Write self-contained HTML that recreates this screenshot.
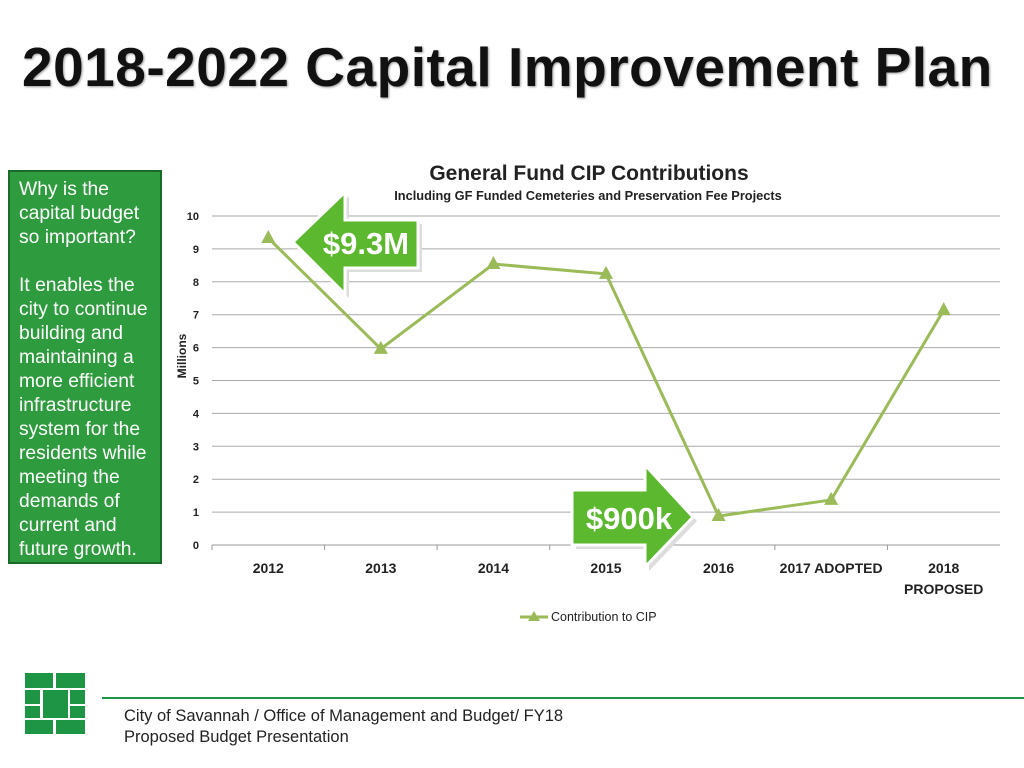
<!DOCTYPE html>
<html><head><meta charset="utf-8"><style>
body{margin:0;width:1024px;height:768px;background:#fff;position:relative;overflow:hidden;font-family:"Liberation Sans",sans-serif}
.abs{position:absolute}
</style></head><body>
<div class="abs" style="left:22px;top:35px;font-size:55px;font-weight:bold;color:#111;letter-spacing:0.5px;white-space:nowrap;text-shadow:1px 1px 2px #999">2018-2022 Capital Improvement Plan</div>
<div class="abs" style="left:8px;top:170px;width:141px;height:384px;background:#2e9b3e;border:2px solid #1a6b2a;color:#fff;font-size:19.3px;line-height:24px;padding:6px 0 0 9px">Why is the capital budget so important?<br><br>It enables the city to continue building and maintaining a more efficient infrastructure system for the residents while meeting the demands of current and future growth.</div>
<svg class="abs" style="left:0;top:0" width="1024" height="768">
<text x="589" y="180" text-anchor="middle" font-size="21" font-weight="bold" fill="#222">General Fund CIP Contributions</text>
<text x="588" y="200" text-anchor="middle" font-size="12.8" font-weight="bold" fill="#222">Including GF Funded Cemeteries and Preservation Fee Projects</text>
<text transform="translate(186,356) rotate(-90)" text-anchor="middle" font-size="12" font-weight="bold" fill="#222">Millions</text>
<g id="grid"></g><g id="series"></g>
<line x1="520" y1="617" x2="548" y2="617" stroke="#9bbb59" stroke-width="3"/>
<polygon points="534,611 540,621 528,621" fill="#9bbb59"/>
<text x="551" y="621" font-size="12.5" fill="#222">Contribution to CIP</text>
<g>
<polygon points="297,246 349,196 349,224 422,224 422,272 349,272 349,298" fill="#ddd"/>
<polygon points="293,242 345,192 345,220 418,220 418,268 345,268 345,294" fill="#5cb82e" stroke="#fff" stroke-width="3"/>
<text x="366" y="254" text-anchor="middle" font-size="31" font-weight="bold" fill="#fff">$9.3M</text></g>
<g>
<polygon points="576,494 649,494 649,469 697,521 649,571 649,549 576,549" fill="#ddd"/>
<polygon points="572,490 645,490 645,465 693,517 645,567 645,545 572,545" fill="#5cb82e" stroke="#fff" stroke-width="3"/>
<text x="629" y="529" text-anchor="middle" font-size="31" font-weight="bold" fill="#fff">$900k</text></g>
<g fill="#1e9445">
<rect x="25" y="673" width="28" height="15"/><rect x="56" y="673" width="29" height="15"/>
<rect x="25" y="690" width="15" height="14"/><rect x="43" y="690" width="25" height="28"/><rect x="70" y="690" width="15" height="14"/>
<rect x="25" y="706" width="15" height="12"/><rect x="70" y="706" width="15" height="12"/>
<rect x="25" y="720" width="28" height="14"/><rect x="56" y="720" width="29" height="14"/></g>
<line x1="102" y1="698" x2="1024" y2="698" stroke="#1e9445" stroke-width="2"/>
<text x="124" y="721" font-size="16.5" fill="#222">City of Savannah / Office of Management and Budget/ FY18</text>
<text x="124" y="742" font-size="16.5" fill="#222">Proposed Budget Presentation</text>
</svg>
<script>
const categories=["2012","2013","2014","2015","2016","2017 ADOPTED","2018|PROPOSED"];
const values=[9.33,5.96,8.54,8.24,0.88,1.37,7.14];
const yTicks=[0,1,2,3,4,5,6,7,8,9,10];
const NS="http://www.w3.org/2000/svg";
const L=212,R=1000,B=545,T=216;
const x=i=>L+(i+0.5)*(R-L)/categories.length;
const y=v=>B-v*(B-T)/10;
const g=document.getElementById('grid'),s=document.getElementById('series');
function mk(t,a,p){const e=document.createElementNS(NS,t);for(const k in a)e.setAttribute(k,a[k]);p.appendChild(e);return e;}
yTicks.forEach(v=>{
 const l=mk('line',{x1:L,x2:R,y1:y(v),y2:y(v),stroke:v===0?'#999':'#aaa','stroke-width':1},g);
 
 
 const t=mk('text',{x:199,y:y(v)+4,'text-anchor':'end','font-size':11,'font-weight':'bold',fill:'#222'},g);
 t.textContent=v;
 
 
});
categories.forEach((c,i)=>{
 const tk=mk('line',{x1:L+i*(R-L)/categories.length,x2:L+i*(R-L)/categories.length,y1:B,y2:B+5,stroke:'#999'},g);
 
 
 c.split('|').forEach((p,j)=>{
  const t=mk('text',{x:x(i),y:573+j*21,'text-anchor':'middle','font-size':14,'font-weight':'bold',fill:'#222'},g);
  t.textContent=p;
  
  
 });
});
const ln=mk('polyline',{points:values.map((v,i)=>x(i)+','+y(v)).join(' '),fill:'none',stroke:'#9bbb59','stroke-width':3},s);


values.forEach((v,i)=>{
 const px=x(i),py=y(v);
 const m=mk('polygon',{points:`${px},${py-8} ${px+7},${py+5} ${px-7},${py+5}`,fill:'#9bbb59'},s);
 
 
});
</script>
</body></html>
